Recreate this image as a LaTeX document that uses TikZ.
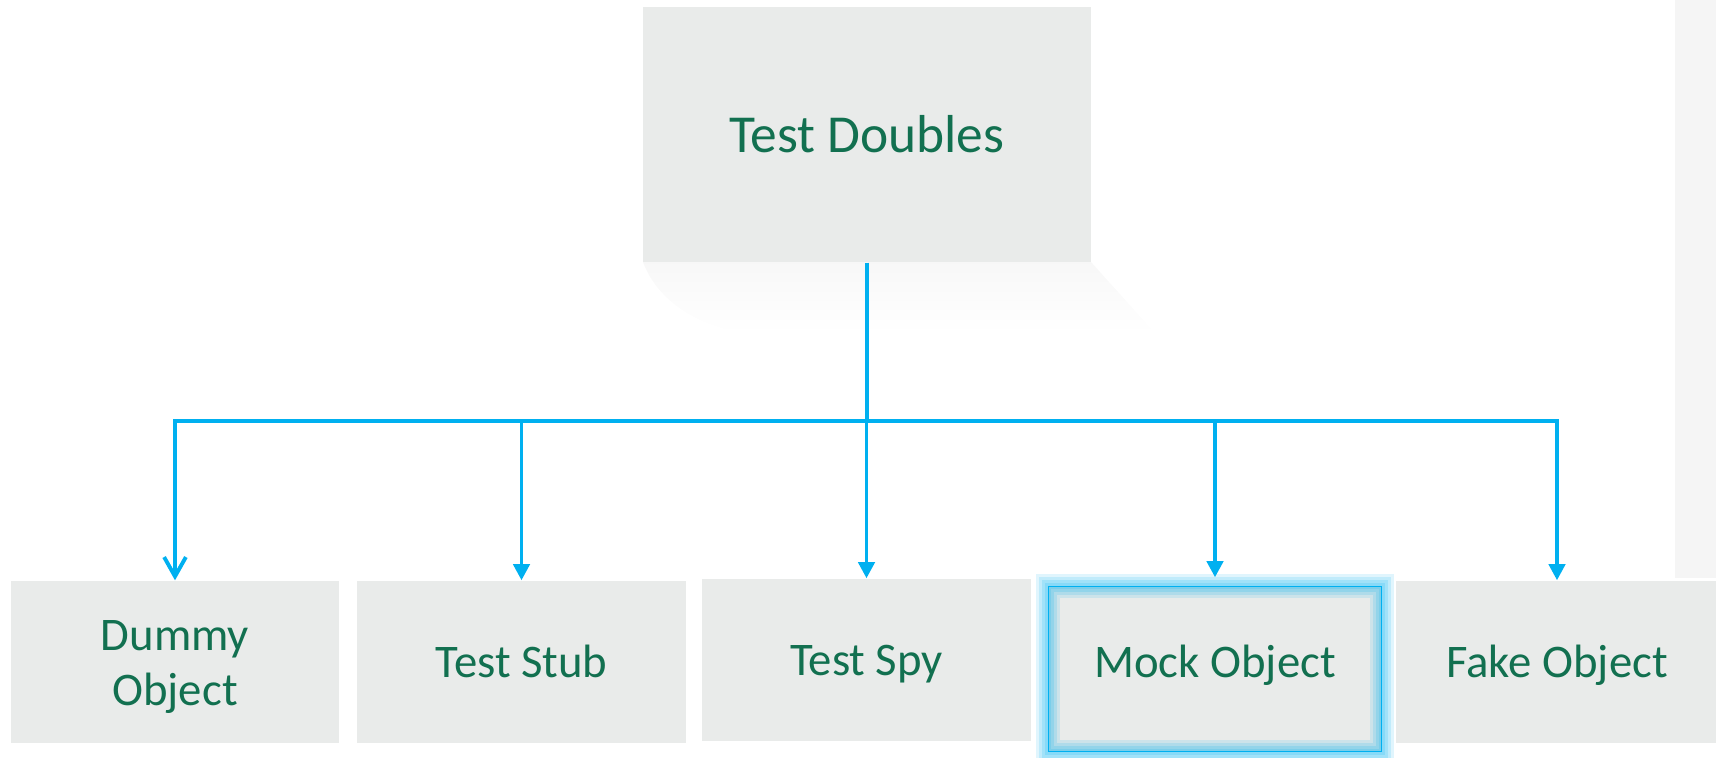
\documentclass[tikz,border=0pt]{standalone}
\usepackage{fontspec}
\setmainfont{Carlito}
\usepackage{tikz}
\usetikzlibrary{arrows.meta, positioning, calc}
\definecolor{boxgray}{RGB}{233,235,234}
\definecolor{textgreen}{RGB}{18,112,80}
\definecolor{linkblue}{RGB}{0,176,240}
\definecolor{stripgray}{RGB}{245,245,245}

\begin{document}
\begin{tikzpicture}[x=0.1mm, y=-0.1mm, font=\fontsize{13.3}{15.6}\selectfont,
  box/.style={fill=boxgray, text=textgreen, inner sep=0pt, minimum height=16.2mm,
    text height=3mm, text depth=0pt},
  link/.style={draw=linkblue, line width=1.1pt},
  tip/.style={link, -{Triangle[length=4.6pt, width=4.6pt]}}]
\useasboundingbox (0,0) rectangle (1716,757);
\fill[stripgray] (1675,0) rectangle (1716,578);
% faint shadow under the root box
\shade[top color=black!3, bottom color=white] (643,262) -- (1091,262) -- (1155,333) -- (745,333)
  .. controls (690,325) and (655,295) .. cycle;

\node[box, minimum width=44.8mm, minimum height=25.5mm, text height=3.6mm,
  font=\fontsize{15.2}{18}\selectfont] (root) at (867,134.5) {Test Doubles};

\node[box, minimum width=32.8mm, text depth=5.3mm] (dummy) at (175,662)
  {\parbox[t]{30mm}{\centering Dummy\\Object}};
\node[box, minimum width=32.9mm] (stub) at (521.5,662) {Test Stub};
\node[box, minimum width=32.9mm] (spy) at (866.5,660) {Test Spy};
\node[box, minimum width=33.2mm, minimum height=16.4mm, text depth=1.4mm] (mock) at (1215,669) {Mock Object};
\node[box, minimum width=32.2mm] (fake) at (1557,662) {Fake Object};

% glow round the mock box
\foreach \w/\o in {2.4/0.12, 1.8/0.14, 1.2/0.16, 0.6/0.16}
  \draw[linkblue, line width=\w mm, draw opacity=\o] (mock.south west) rectangle (mock.north east);
\draw[linkblue, line width=0.4pt] (mock.south west) rectangle (mock.north east);

\coordinate (bus) at (867,421);
\draw[link] (root.south) -- (bus);
\draw[link, -{Straight Barb[length=5.5pt, width=6.2pt]}] (bus) -| (dummy.north);
\foreach \n in {stub, spy, fake}
  \draw[tip] (bus) -| (\n.north);
\draw[tip, shorten >=0.9mm] (bus) -| (mock.north);
\end{tikzpicture}
\end{document}
